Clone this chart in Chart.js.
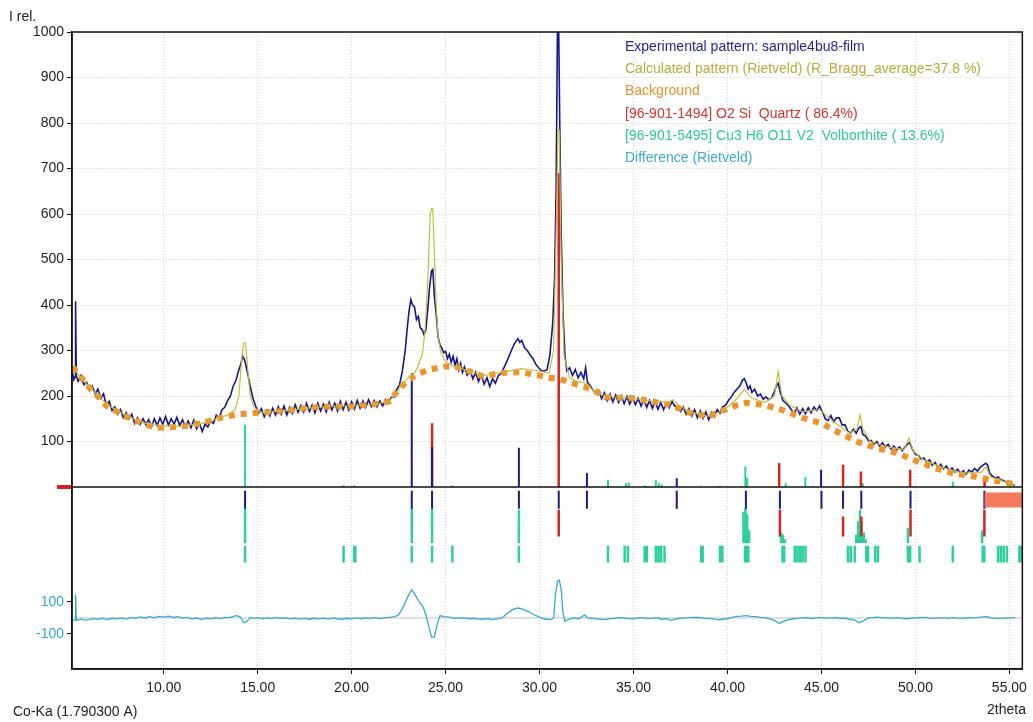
<!DOCTYPE html>
<html>
<head>
<meta charset="utf-8">
<title>sample4bu8-film</title>
<script src="https://cdn.jsdelivr.net/npm/chart.js@4.4.0/dist/chart.umd.min.js"></script>
<style>
  body { margin: 0; background: #fff; }
  canvas { display: block; }
</style>
</head>
<body>
<canvas id="xrdChart" width="1033" height="722"></canvas>
<script>
// tick labels
let xTicks = [10, 15, 20, 25, 30, 35, 40, 45, 50, 55];
let yTicks = [100, 200, 300, 400, 500, 600, 700, 800, 900, 1000];
let diffTicks = [100, -100];

// axis ranges (2theta, I rel. and the difference panel)
let xMin = 5.12, xMax = 55.69;
let yMin = -400, yMax = 1000;
let diffMin = -319, diffMax = 3662;

// Experimental pattern [2theta, I]
let experimental = [
  [5.15,250],[5.22,236],[5.28,242],[5.31,408],[5.35,244],[5.45,232],[5.6,245],[5.75,225],[5.9,230],[6.05,212],
  [6.2,222],[6.35,205],[6.5,215],[6.65,195],[6.8,205],[6.95,178],[7.1,188],[7.25,168],[7.4,176],[7.55,160],
  [7.7,170],[7.85,152],[8.0,163],[8.15,150],[8.3,160],[8.45,140],[8.6,152],[8.75,138],[8.9,150],[9.05,137],
  [9.2,148],[9.35,132],[9.5,150],[9.65,135],[9.8,152],[9.95,138],[10.1,155],[10.25,136],[10.4,150],[10.55,138],
  [10.7,153],[10.85,135],[11.0,148],[11.15,133],[11.3,145],[11.45,130],[11.6,147],[11.75,128],[11.9,140],[12.05,122],
  [12.2,138],[12.35,132],[12.5,145],[12.65,140],[12.8,158],[12.95,152],[13.1,170],[13.25,175],[13.4,190],[13.55,200],
  [13.7,222],[13.85,235],[14.0,258],[14.1,270],[14.2,287],[14.3,280],[14.4,262],[14.5,243],[14.6,222],[14.75,195],
  [14.9,177],[15.05,163],[15.2,172],[15.35,154],[15.5,168],[15.65,156],[15.8,173],[15.95,158],[16.1,176],[16.25,160],
  [16.4,178],[16.55,158],[16.7,175],[16.85,162],[17.0,181],[17.15,164],[17.3,179],[17.45,165],[17.6,184],[17.75,166],
  [17.9,180],[18.05,163],[18.2,184],[18.35,167],[18.5,182],[18.65,165],[18.8,186],[18.95,169],[19.1,184],[19.25,167],
  [19.4,188],[19.55,170],[19.7,186],[19.85,169],[20.0,187],[20.15,171],[20.3,190],[20.45,173],[20.6,189],[20.75,175],
  [20.9,192],[21.05,177],[21.2,190],[21.35,176],[21.5,189],[21.65,178],[21.8,192],[21.95,184],[22.1,197],[22.25,198],
  [22.4,214],[22.55,225],[22.7,255],[22.85,300],[22.95,345],[23.05,385],[23.15,412],[23.25,400],[23.35,395],[23.45,368],
  [23.55,375],[23.65,350],[23.75,346],[23.85,335],[23.95,345],[24.05,390],[24.15,440],[24.25,475],[24.32,478],[24.4,420],
  [24.5,380],[24.6,330],[24.7,312],[24.8,305],[24.9,295],[25.0,298],[25.1,282],[25.2,292],[25.3,274],[25.4,287],
  [25.5,268],[25.6,282],[25.7,258],[25.8,272],[25.9,252],[26.0,264],[26.15,246],[26.3,257],[26.45,238],[26.6,252],
  [26.75,232],[26.9,246],[27.05,226],[27.2,240],[27.35,221],[27.5,238],[27.65,228],[27.8,244],[27.95,250],[28.1,262],
  [28.25,275],[28.4,290],[28.55,305],[28.7,318],[28.85,326],[28.95,318],[29.05,322],[29.2,306],[29.35,300],[29.5,290],
  [29.65,282],[29.8,270],[29.95,262],[30.1,256],[30.25,255],[30.4,258],[30.55,290],[30.7,360],[30.8,460],[30.88,650],
  [30.95,1000],[31.02,1000],[31.08,780],[31.15,560],[31.25,380],[31.35,290],[31.45,255],[31.6,262],[31.75,245],[31.9,258],
  [32.05,240],[32.2,252],[32.35,238],[32.45,262],[32.55,230],[32.7,222],[32.85,212],[33.0,206],[33.15,212],[33.3,194],
  [33.45,207],[33.6,190],[33.75,204],[33.9,187],[34.05,202],[34.2,186],[34.35,200],[34.5,183],[34.65,199],[34.8,182],
  [34.95,196],[35.1,181],[35.25,195],[35.4,178],[35.55,193],[35.7,175],[35.85,190],[36.0,173],[36.15,188],[36.3,171],
  [36.45,186],[36.6,170],[36.75,184],[36.9,174],[37.05,188],[37.2,178],[37.35,176],[37.5,166],[37.65,176],[37.8,160],
  [37.95,172],[38.1,156],[38.25,170],[38.4,152],[38.55,167],[38.7,151],[38.85,165],[39.0,148],[39.15,164],[39.3,155],
  [39.45,170],[39.6,162],[39.75,177],[39.9,180],[40.05,190],[40.2,198],[40.35,208],[40.5,215],[40.65,222],[40.8,235],
  [40.9,238],[41.0,228],[41.1,215],[41.2,222],[41.3,208],[41.45,215],[41.6,200],[41.75,204],[41.9,193],[42.05,198],
  [42.2,192],[42.35,196],[42.5,210],[42.6,222],[42.7,228],[42.8,210],[42.95,190],[43.1,185],[43.25,178],[43.4,170],
  [43.55,162],[43.7,174],[43.85,160],[44.0,172],[44.15,161],[44.3,174],[44.45,163],[44.6,176],[44.75,168],[44.9,178],
  [45.05,165],[45.2,150],[45.35,146],[45.5,157],[45.65,143],[45.8,152],[45.95,152],[46.1,136],[46.25,137],[46.4,123],
  [46.55,118],[46.7,127],[46.85,118],[47.0,130],[47.1,133],[47.2,116],[47.35,112],[47.5,102],[47.65,102],[47.8,94],
  [47.95,100],[48.1,90],[48.25,97],[48.4,88],[48.55,94],[48.7,83],[48.85,90],[49.0,82],[49.15,88],[49.3,80],
  [49.45,88],[49.6,95],[49.7,98],[49.85,82],[50.0,72],[50.15,70],[50.3,62],[50.45,64],[50.6,54],[50.75,60],
  [50.9,48],[51.05,54],[51.2,43],[51.35,50],[51.5,40],[51.65,46],[51.8,36],[51.95,42],[52.1,33],[52.25,39],
  [52.4,30],[52.55,36],[52.7,28],[52.85,37],[53.0,33],[53.15,41],[53.3,35],[53.45,43],[53.6,48],[53.75,52],
  [53.85,48],[53.95,30],[54.1,24],[54.25,20],[54.4,22],[54.55,16],[54.7,14],[54.85,10],[55.0,8],[55.15,6],[55.3,4]
];

// Calculated pattern (Rietveld)
let calculated = [
  [5.15,262],[5.5,245],[6.0,222],[7.0,180],[8.0,157],[9.0,140],[10.0,134],[11.0,134],[12.0,140],[12.8,150],
  [13.4,158],[13.8,170],[14.0,200],[14.15,280],[14.25,317],[14.35,317],[14.45,270],[14.6,200],[14.8,175],[15.2,163],
  [16.0,166],[17.0,170],[18.0,175],[19.0,178],[20.0,178],[21.0,180],[21.5,184],[22.0,188],[22.5,214],[22.9,236],
  [23.35,251],[23.5,262],[23.75,290],[23.9,340],[24.05,450],[24.18,600],[24.25,612],[24.32,612],[24.4,520],[24.5,400],
  [24.6,330],[24.75,295],[25.0,275],[25.3,268],[25.5,265],[26.0,258],[27.0,245],[28.0,252],[29.0,260],[30.0,255],
  [30.5,250],[30.75,300],[30.9,600],[30.98,785],[31.05,785],[31.15,500],[31.3,290],[31.6,240],[32.0,232],[32.5,228],
  [33.0,205],[34.0,198],[35.0,195],[36.0,188],[36.8,186],[37.1,192],[37.4,180],[38.0,165],[39.0,155],[39.8,168],
  [40.4,190],[40.9,214],[41.3,195],[42.0,186],[42.5,200],[42.7,254],[42.9,200],[43.3,180],[44.0,165],[44.9,170],
  [45.5,148],[46.5,118],[46.9,128],[47.05,159],[47.2,128],[47.6,100],[48.5,88],[49.4,82],[49.65,108],[49.9,78],
  [50.5,58],[51.5,42],[52.5,30],[53.5,32],[53.75,45],[54.0,22],[55.0,8],[55.3,5]
];

// Background
let background = [
  [5.15,264],[6.0,221],[7.0,177],[8.0,155],[9.0,137],[9.8,130],[11.0,133],[12.0,140],[13.0,152],[14.0,160],
  [15.0,163],[16.0,166],[17.0,170],[18.0,175],[19.0,177],[20.0,177],[21.0,181],[22.0,188],[22.5,214],[23.0,235],
  [23.5,248],[24.0,256],[24.5,261],[25.0,265],[25.5,265],[26.0,258],[27.0,243],[28.0,251],[29.0,252],[30.0,245],
  [30.5,240],[31.0,238],[31.5,232],[32.0,225],[32.8,215],[33.5,197],[35.0,195],[36.0,188],[37.0,180],[38.0,163],
  [39.0,155],[40.0,172],[40.5,180],[41.0,185],[42.0,180],[43.0,168],[44.0,152],[45.0,140],[46.0,118],[47.0,98],
  [48.0,85],[49.0,75],[50.0,58],[51.0,42],[52.0,30],[53.0,24],[54.0,16],[55.3,6]
];

// Difference (Rietveld), own scale
let difference = [
  [5.15,-15],[5.28,-12],[5.31,146],[5.35,-15],[5.6,-8],[5.8,-14],[6.0,-10],[6.25,-4],[6.5,-9],[6.75,-3],[7.0,-10],
  [7.25,-2],[7.5,-6],[7.75,0],[8.0,-7],[8.25,2],[8.5,-2],[8.75,6],[9.0,1],[9.25,8],[9.5,2],[9.75,10],
  [10.0,5],[10.25,11],[10.5,3],[10.75,8],[11.0,-1],[11.25,4],[11.5,-5],[11.75,0],[12.0,-9],[12.25,-2],[12.5,-6],
  [12.75,1],[13.0,-4],[13.25,3],[13.5,2],[13.7,10],[13.9,15],[14.1,5],[14.25,-30],[14.4,-25],[14.6,2],[14.8,-3],
  [15.0,2],[15.25,-5],[15.5,1],[15.75,-4],[16.0,2],[16.25,-3],[16.5,0],[16.75,-6],[17.0,-1],[17.25,-7],[17.5,-3],
  [17.75,-8],[18.0,-2],[18.25,-6],[18.5,-1],[18.75,-7],[19.0,0],[19.25,-5],[19.5,-8],[19.75,-2],[20.0,-6],[20.25,0],
  [20.5,-5],[20.75,1],[21.0,-2],[21.25,2],[21.5,-4],[21.75,1],[22.0,3],[22.3,8],[22.5,20],[22.7,60],[22.9,110],
  [23.1,160],[23.2,175],[23.35,150],[23.6,100],[23.8,70],[23.95,20],[24.1,-50],[24.25,-120],[24.4,-120],[24.55,-40],
  [24.7,15],[24.9,8],[25.2,5],[25.5,-2],[26.0,0],[26.25,-5],[26.5,-2],[26.75,-7],[27.0,-8],[27.25,-4],[27.5,-10],
  [28.0,0],[28.3,30],[28.6,55],[28.85,62],[29.1,55],[29.4,40],[29.7,20],[30.0,5],[30.3,-8],[30.6,-10],[30.75,0],
  [30.85,150],[30.95,230],[31.05,237],[31.15,180],[31.25,30],[31.35,-20],[31.5,-10],[31.8,0],[32.1,-5],[32.4,20],
  [32.55,0],[32.8,-3],[33.0,-4],[33.25,-8],[33.5,-10],[33.75,-4],[34.0,-3],[34.25,2],[34.5,0],[34.75,-4],[35.0,-5],
  [35.25,1],[35.5,0],[35.75,-3],[36.0,-3],[36.25,2],[36.5,-8],[36.75,-4],[37.0,-15],[37.3,-5],[37.55,-1],[37.8,0],
  [38.1,4],[38.5,3],[38.75,-2],[39.0,-3],[39.25,-6],[39.5,-12],[39.75,-8],[40.0,-5],[40.25,4],[40.5,10],[40.75,12],
  [41.0,15],[41.25,10],[41.5,8],[41.75,3],[42.0,0],[42.25,-6],[42.5,-15],[42.75,-35],[43.0,-20],[43.25,-10],[43.5,-5],
  [43.75,-2],[44.0,0],[44.25,2],[44.5,-4],[44.75,1],[45.0,3],[45.25,-2],[45.5,0],[45.75,2],[46.0,-3],[46.25,-1],
  [46.5,-8],[46.75,-12],[47.0,-30],[47.2,-20],[47.5,0],[47.75,2],[48.0,5],[48.25,1],[48.5,0],[48.75,-2],[49.0,2],
  [49.25,-1],[49.5,-5],[49.75,-2],[50.0,0],[50.25,2],[50.5,3],[50.75,-1],[51.0,-2],[51.25,1],[51.5,0],[51.75,-2],
  [52.0,2],[52.25,-1],[52.5,-3],[52.75,0],[53.0,0],[53.25,2],[53.5,5],[53.8,8],[54.0,0],[54.25,-2],[54.5,-3],
  [54.75,-1],[55.0,0],[55.3,0]
];

// sticks above the zero line [2theta, height]
let peakSticks = [[23.2,250],[24.28,88],[28.9,86],[32.52,31],[37.3,19],[44.98,38]];
let quartzSticks = [[24.28,140],[31.02,690],[42.75,53],[46.15,49],[47.1,34],[49.72,38],[53.68,20]];
let volborthiteSticks = [
  [14.33,137],[19.57,4],[20.14,4],[25.36,4],[33.64,16],[34.6,8],[34.75,10],[35.6,4],[36.19,16],[36.35,8],
  [36.5,6],[38.6,3],[39.6,3],[40.95,45],[41.05,20],[43.1,8],[44.14,22],[46.4,3],[47.2,8],[51.99,12]
];

// marker rows below the zero line
let peakMarks = [14.33,23.2,24.28,28.9,31.02,32.52,37.3,40.98,42.79,45.0,46.15,47.12,49.74,53.67];
let quartzMarks = [[31.02,-50],[42.79,-50],[46.15,-65],[47.12,-65],[49.74,-50],[53.67,-50]];
let volborthiteProfile = [
  [14.33,-46],[23.2,-46],[24.28,-46],[28.9,-50],[40.85,-55],[40.95,-46],[41.05,-60],[41.15,-95],[42.85,-100],
  [42.95,-105],[43.05,-115],[46.85,-105],[46.95,-75],[47.05,-50],[47.15,-75],[47.25,-100],[47.35,-115],[49.6,-90],[53.55,-95]
];
let volborthiteMarks = [
  14.33,19.57,20.14,20.2,23.2,24.28,25.36,28.9,33.64,34.53,34.7,35.59,35.71,36.19,36.33,36.47,36.65,38.6,38.68,
  39.6,39.73,40.93,41.02,41.11,42.93,43.02,43.58,43.72,43.86,44.0,44.15,46.41,46.56,46.77,47.39,47.48,47.86,48.01,
  49.6,49.72,50.22,51.99,53.58,53.67,54.4,54.55,54.7,54.87,55.53,55.6,55.67
];

// excluded region block
let excludedFrom = 53.68, excludedTo = 55.69;

let legendLabels = [
  "Experimental pattern: sample4bu8-film",
  "Calculated pattern (Rietveld) (R_Bragg_average=37.8 %)",
  "Background",
  "[96-901-1494] O2 Si  Quartz ( 86.4%)",
  "[96-901-5495] Cu3 H6 O11 V2  Volborthite ( 13.6%)",
  "Difference (Rietveld)"
];
let legendColors = ["#23239a", "#b3ae3c", "#ee8f2c", "#d33434", "#2ec89c", "#3ea8d2"];

function diffToY(v) {
  return yMin + (v - diffMin) / (diffMax - diffMin) * (yMax - yMin);
}

function toPoints(list) {
  return list.map((p) => ({ x: p[0], y: p[1] }));
}

// vertical sticks, split by null so they are not joined
function sticks(list, base) {
  let pts = [];
  for (let i = 0; i < list.length; i++) {
    pts.push({ x: list[i][0], y: base });
    pts.push({ x: list[i][0], y: list[i][1] });
    pts.push({ x: list[i][0], y: null });
  }
  return pts;
}

function stickSet(data, color, width) {
  return {
    data: data,
    borderColor: color,
    borderWidth: width,
    pointRadius: 0,
    spanGaps: false,
    tension: 0,
  };
}

const framePlugin = {
  id: "frame",
  beforeDatasetsDraw(chart) {
    const { ctx, chartArea: a, scales } = chart;
    let yd0 = scales.yd.getPixelForValue(0);
    ctx.save();
    ctx.strokeStyle = "#c2c2c2";
    ctx.lineWidth = 1;
    ctx.beginPath();
    ctx.moveTo(a.left, yd0);
    ctx.lineTo(a.right, yd0);
    ctx.stroke();
    ctx.restore();
  },
  afterDatasetsDraw(chart) {
    const { ctx, chartArea: a, scales } = chart;
    let x = scales.x, y = scales.y;
    let y0 = y.getPixelForValue(0);
    ctx.save();
    // excluded range
    ctx.fillStyle = "#f47a5c";
    let r1 = x.getPixelForValue(excludedFrom), r2 = x.getPixelForValue(excludedTo);
    let t = y.getPixelForValue(-12), b = y.getPixelForValue(-45);
    ctx.fillRect(r1, t, r2 - r1, b - t);
    // zero line
    ctx.strokeStyle = "#111";
    ctx.lineWidth = 1.5;
    ctx.beginPath();
    ctx.moveTo(a.left, y0);
    ctx.lineTo(a.right, y0);
    ctx.stroke();
    // red zero marker left of the axis
    ctx.strokeStyle = "#d42020";
    ctx.lineWidth = 4;
    ctx.beginPath();
    ctx.moveTo(a.left - 15, y0);
    ctx.lineTo(a.left, y0);
    ctx.stroke();
    // frame
    ctx.strokeStyle = "#111";
    ctx.lineWidth = 1.5;
    ctx.strokeRect(a.left, a.top, a.right - a.left, a.bottom - a.top);
    ctx.restore();
  },
  afterDraw(chart) {
    const { ctx } = chart;
    ctx.save();
    ctx.font = '14px "Liberation Sans", Arial, sans-serif';
    ctx.textBaseline = "middle";
    for (let i = 0; i < legendLabels.length; i++) {
      ctx.fillStyle = legendColors[i];
      ctx.fillText(legendLabels[i], 625, 47 + i * 22.3);
    }
    ctx.fillStyle = "#222";
    ctx.fillText("I rel.", 9, 17);
    ctx.fillText("Co-Ka (1.790300 A)", 13, 712);
    ctx.textAlign = "right";
    ctx.fillText("2theta", 1026, 710);
    ctx.restore();
  },
};

Chart.defaults.font.family = '"Liberation Sans", Arial, sans-serif';
Chart.defaults.font.size = 14;

let ctx = document.getElementById("xrdChart").getContext("2d");
let xrdChart = new Chart(ctx, {
  type: "line",
  data: {
    datasets: [
      {
        label: "Calculated",
        data: toPoints(calculated),
        borderColor: "#c4bd3e",
        borderWidth: 1.2,
        pointRadius: 0,
        tension: 0,
      },
      {
        label: "Background",
        data: toPoints(background),
        borderColor: "#f0922b",
        borderWidth: 6,
        borderDash: [6, 6],
        borderCapStyle: "butt",
        pointRadius: 0,
        tension: 0,
      },
      {
        label: "Experimental",
        data: toPoints(experimental),
        borderColor: "#16168e",
        borderWidth: 1.6,
        pointRadius: 0,
        tension: 0,
      },
      {
        label: "Difference",
        data: toPoints(difference),
        yAxisID: "yd",
        borderColor: "#36a8d2",
        borderWidth: 1.3,
        pointRadius: 0,
        tension: 0,
      },
      stickSet(sticks(peakSticks, 0), "#1a1a86", 2),
      stickSet(sticks(quartzSticks, 0), "#d42424", 2.5),
      stickSet(sticks(volborthiteSticks, 0), "#2ecf9f", 2),
      stickSet(sticks(peakMarks.map((v) => [v, -48]), -8), "#1a1a80", 2),
      stickSet(sticks(quartzMarks, -109), "#d42424", 2.5),
      stickSet(sticks(volborthiteProfile, -123), "#2ecf9f", 2.5),
      stickSet(sticks(volborthiteMarks.map((v) => [v, -166]), -129), "#2ecf9f", 2.5),
    ],
  },
  options: {
    responsive: false,
    animation: false,
    events: [],
    layout: { padding: { top: 32, right: 8, left: 0, bottom: 0 } },
    plugins: {
      legend: { display: false },
      tooltip: { enabled: false },
    },
    scales: {
      x: {
        type: "linear",
        min: xMin,
        max: xMax,
        offset: false,
        afterBuildTicks: (scale) => {
          scale.ticks = xTicks.map((v) => ({ value: v }));
        },
        afterFit: (scale) => {
          scale.height = 53;
        },
        grid: {
          color: "#d2d2d2",
          tickColor: "#111",
          tickLength: 5,
        },
        border: { display: true, color: "#111", width: 1.5, dash: [1, 2] },
        ticks: {
          color: "#222",
          padding: 6,
          maxRotation: 0,
          callback: (v) => Number(v).toFixed(2),
        },
      },
      y: {
        type: "linear",
        min: yMin,
        max: yMax,
        afterBuildTicks: (scale) => {
          let list = diffTicks.map((v) => ({ value: diffToY(v) }));
          scale.ticks = list.concat(yTicks.map((v) => ({ value: v })));
        },
        afterFit: (scale) => {
          scale.width = 72;
        },
        grid: {
          color: (c) => (c.tick && c.tick.value > 0 ? "#d2d2d2" : "rgba(0,0,0,0)"),
          tickColor: "#111",
          tickLength: 5,
        },
        border: { display: true, color: "#111", width: 1.5, dash: [1, 2] },
        ticks: {
          padding: 3,
          color: (c) => (c.tick && c.tick.value < 0 ? "#3aa6cf" : "#222"),
          callback: (v) => {
            if (v < 0) {
              let d = diffMin + (v - yMin) / (yMax - yMin) * (diffMax - diffMin);
              return String(Math.round(d));
            }
            return String(v);
          },
        },
      },
      yd: {
        type: "linear",
        display: false,
        min: diffMin,
        max: diffMax,
      },
    },
  },
  plugins: [framePlugin],
});
</script>
</body>
</html>
